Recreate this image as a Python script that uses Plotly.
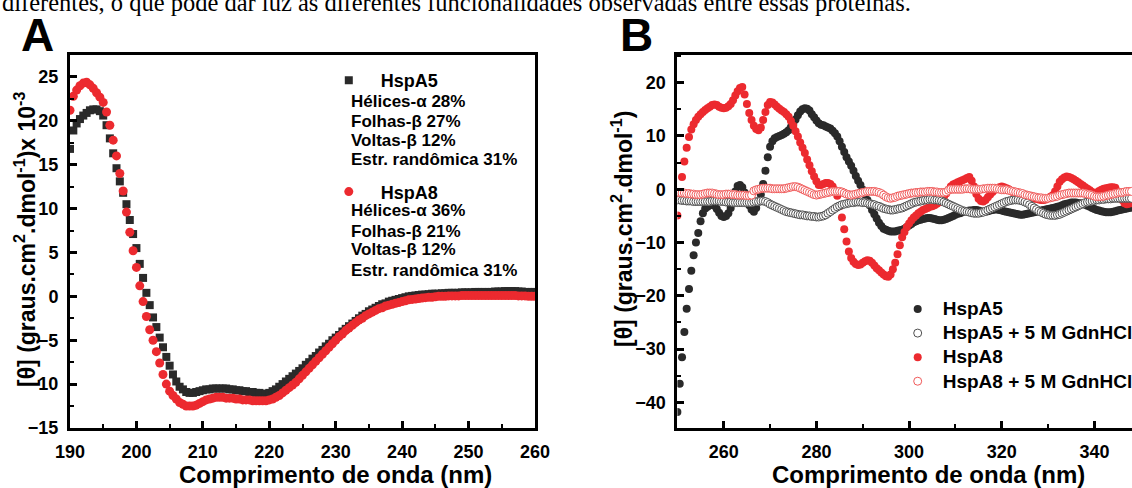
import numpy as np
import plotly.graph_objects as go

# ---------------- Panel A: far-UV CD spectra (190-260 nm, 0.5 nm step) ----------------
wl_far_start, wl_far_step = 190.0, 0.5

hspa5_far = [
    16.8, 18.9, 19.7, 20.2, 20.6, 20.9, 21.2, 21.3, 21.3, 21.1,
    20.6, 19.5, 18.0, 16.3, 14.6, 13.1, 11.8, 10.5, 8.7, 7.1,
    5.5, 3.7, 2.1, 0.4, -1.0, -2.4, -3.5, -4.7, -5.8, -6.9,
    -7.9, -8.9, -9.7, -10.3, -10.6, -10.9, -11.0, -11.0, -10.9, -10.8,
    -10.7, -10.6, -10.6, -10.5, -10.5, -10.5, -10.5, -10.5, -10.6, -10.6,
    -10.7, -10.7, -10.8, -10.8, -10.9, -10.9, -11.0, -11.0, -11.1, -11.1,
    -11.0, -10.8, -10.6, -10.3, -10.0, -9.7, -9.4, -9.1, -8.8, -8.5,
    -8.2, -7.8, -7.5, -7.1, -6.8, -6.4, -6.1, -5.7, -5.4, -5.0,
    -4.7, -4.4, -4.0, -3.7, -3.4, -3.1, -2.8, -2.5, -2.2, -2.0,
    -1.7, -1.5, -1.3, -1.1, -0.9, -0.8, -0.6, -0.5, -0.4, -0.3,
    -0.2, -0.1, 0.0, 0.05, 0.1, 0.15, 0.2, 0.2, 0.25, 0.3,
    0.3, 0.3, 0.35, 0.35, 0.4, 0.4, 0.4, 0.4, 0.45, 0.45,
    0.45, 0.45, 0.5, 0.5, 0.5, 0.5, 0.5, 0.5, 0.55, 0.55,
    0.55, 0.6, 0.6, 0.6, 0.6, 0.55, 0.55, 0.5, 0.5, 0.5,
    0.5,
]

hspa8_far = [
    21.2, 22.8, 23.5, 24.0, 24.3, 24.4, 24.1, 23.7, 23.2, 22.7,
    22.1, 21.0, 19.5, 17.8, 16.0, 14.0, 12.0, 9.6, 7.3, 5.2,
    3.3, 1.2, -0.6, -2.3, -3.8, -5.0, -6.3, -7.6, -8.9, -10.0,
    -10.8, -11.3, -11.7, -12.1, -12.3, -12.5, -12.5, -12.5, -12.4, -12.2,
    -12.0, -11.8, -11.7, -11.6, -11.5, -11.5, -11.5, -11.6, -11.6, -11.6,
    -11.7, -11.7, -11.8, -11.8, -11.8, -11.9, -11.9, -11.9, -11.9, -11.9,
    -11.8, -11.7, -11.5, -11.3, -11.0, -10.7, -10.4, -10.1, -9.8, -9.4,
    -9.0, -8.6, -8.2, -7.8, -7.4, -7.0, -6.6, -6.2, -5.8, -5.4,
    -5.0, -4.6, -4.3, -3.9, -3.6, -3.3, -3.0, -2.7, -2.5, -2.2,
    -2.0, -1.8, -1.6, -1.4, -1.3, -1.1, -1.0, -0.9, -0.8, -0.7,
    -0.6, -0.5, -0.4, -0.35, -0.3, -0.25, -0.2, -0.15, -0.1, -0.1,
    -0.05, 0.0, 0.0, 0.0, 0.05, 0.05, 0.05, 0.05, 0.1, 0.1,
    0.1, 0.1, 0.1, 0.1, 0.1, 0.1, 0.1, 0.1, 0.1, 0.1,
    0.1, 0.1, 0.1, 0.1, 0.1, 0.05, 0.05, 0.05, 0.0, 0.0,
    0.0,
]

# Secondary-structure content estimated from the far-UV spectra
ss_labels = ["Hélices-α", "Folhas-β", "Voltas-β", "Estr. randômica"]
ss_hspa5 = [28, 27, 12, 31]
ss_hspa8 = [36, 21, 12, 31]

# ---------------- Panel B: near-UV CD spectra (250-348 nm, 0.5 nm step) ----------------
wl_near_start, wl_near_step = 250.0, 0.5

hspa5_near = [
    -41.8, -36.5, -31.5, -26.8, -22.4, -18.7, -15.3, -12.4, -10.0, -8.2,
    -6.0, -4.5, -3.6, -3.3, -3.0, -2.9, -3.1, -3.7, -4.4, -5.0,
    -5.2, -5.0, -4.5, -3.5, -2.0, -0.4, 0.6, 0.8, 0.4, -0.6,
    -2.0, -3.0, -3.8, -4.2, -3.5, -2.3, -1.0, 1.0, 3.5, 6.0,
    8.0, 9.0, 9.6, 9.8, 10.0, 10.2, 10.4, 10.7, 11.1, 11.7,
    12.3, 13.1, 13.9, 14.6, 15.0, 15.2, 15.1, 14.8, 14.1, 13.5,
    12.9, 12.4, 12.1, 12.0, 11.8, 11.6, 11.4, 11.0, 10.5, 9.9,
    9.0, 8.0, 7.0, 6.0, 5.2, 4.4, 3.5, 2.5, 1.6, 0.8,
    -0.1, -1.0, -2.0, -3.0, -3.9, -4.7, -5.5, -6.3, -6.9, -7.4,
    -7.6, -7.8, -7.9, -7.9, -7.9, -7.8, -7.7, -7.6, -7.4, -7.1,
    -6.8, -6.5, -6.2, -6.0, -5.8, -5.7, -5.6, -5.5, -5.4, -5.4,
    -5.5, -5.6, -5.7, -5.8, -5.8, -5.7, -5.6, -5.4, -5.2, -5.0,
    -4.8, -4.6, -4.5, -4.3, -4.2, -4.1, -4.0, -4.0, -3.9, -3.9,
    -4.0, -4.1, -4.2, -4.2, -4.1, -4.0, -3.9, -3.8, -3.8, -3.9,
    -4.0, -4.1, -4.2, -4.3, -4.4, -4.5, -4.6, -4.7, -4.8, -4.8,
    -4.7, -4.6, -4.5, -4.4, -4.3, -4.2, -4.1, -4.0, -3.9, -3.8,
    -3.7, -3.6, -3.5, -3.4, -3.3, -3.2, -3.0, -2.8, -2.7, -2.6,
    -2.5, -2.5, -2.5, -2.6, -2.6, -2.7, -2.9, -3.1, -3.3, -3.5,
    -3.7, -3.9, -4.0, -4.1, -4.2, -4.3, -4.3, -4.3, -4.2, -4.1,
    -4.0, -3.9, -3.8, -3.7, -3.6, -3.5, -3.4,
]

hspa5_gdn_near = [
    -2.0, -2.0, -2.1, -2.1, -2.2, -2.2, -2.2, -2.3, -2.3, -2.3,
    -2.3, -2.3, -2.3, -2.3, -2.3, -2.2, -2.2, -2.2, -2.2, -2.3,
    -2.3, -2.4, -2.4, -2.4, -2.5, -2.5, -2.5, -2.5, -2.5, -2.5,
    -2.5, -2.5, -2.5, -2.4, -2.3, -2.3, -2.2, -2.2, -2.3, -2.5,
    -2.8, -3.0, -3.2, -3.4, -3.6, -3.8, -4.0, -4.2, -4.3, -4.4,
    -4.5, -4.6, -4.7, -4.8, -4.8, -4.9, -5.0, -5.0, -5.1, -5.1,
    -5.2, -5.2, -5.1, -5.0, -4.8, -4.5, -4.2, -3.9, -3.6, -3.3,
    -3.1, -2.9, -2.8, -2.7, -2.6, -2.5, -2.5, -2.4, -2.4, -2.4,
    -2.5, -2.5, -2.6, -2.7, -2.8, -2.9, -3.1, -3.2, -3.4, -3.6,
    -3.7, -3.8, -3.9, -3.9, -3.8, -3.7, -3.6, -3.5, -3.3, -3.1,
    -2.9, -2.7, -2.5, -2.4, -2.3, -2.2, -2.1, -2.0, -2.0, -1.9,
    -1.9, -2.0, -2.0, -2.1, -2.2, -2.4, -2.6, -2.8, -3.0, -3.2,
    -3.4, -3.6, -3.8, -4.0, -4.1, -4.2, -4.3, -4.4, -4.5, -4.5,
    -4.5, -4.4, -4.3, -4.1, -3.9, -3.7, -3.5, -3.3, -3.1, -2.9,
    -2.7, -2.5, -2.3, -2.2, -2.1, -2.0, -2.0, -2.0, -2.1, -2.2,
    -2.4, -2.6, -2.9, -3.2, -3.5, -3.8, -4.1, -4.3, -4.5, -4.7,
    -4.8, -4.9, -4.9, -4.9, -4.8, -4.7, -4.5, -4.3, -4.1, -3.9,
    -3.7, -3.5, -3.3, -3.1, -2.9, -2.7, -2.5, -2.4, -2.3, -2.2,
    -2.1, -2.0, -2.0, -1.9, -1.9, -1.8, -1.8, -1.8, -1.7, -1.7,
    -1.7, -1.7, -1.7, -1.7, -1.7, -1.7, -1.7,
]

hspa8_near = [
    -4.9, -1.4, 2.3, 5.2, 7.8, 9.8, 11.2, 12.2, 13.0, 13.6,
    14.1, 14.5, 14.9, 15.2, 15.5, 15.8, 15.9, 15.8, 15.5, 15.3,
    15.2, 15.3, 15.6, 16.0, 16.7, 17.6, 18.4, 19.0, 19.2, 17.8,
    16.0, 14.3, 13.0, 11.9, 11.3, 11.1, 11.6, 13.0, 14.5, 15.8,
    16.4, 16.3, 15.9, 15.5, 15.1, 14.8, 14.5, 14.1, 13.6, 12.8,
    11.9, 10.9, 9.9, 8.8, 7.8, 6.8, 5.6, 4.5, 3.4, 2.4,
    1.5, 0.8, 0.8, 1.0, 1.2, 1.2, 1.0, 0.5, -0.2, -1.2,
    -3.2, -5.3, -7.5, -9.8, -11.7, -12.9, -13.6, -14.0, -14.2, -14.1,
    -13.8, -13.5, -13.3, -13.4, -13.8, -14.3, -14.8, -15.2, -15.6, -16.0,
    -16.3, -16.4, -16.0, -15.0, -13.8, -12.2, -10.5, -9.0, -8.0, -7.1,
    -6.4, -5.8, -5.3, -4.9, -4.5, -4.2, -3.9, -3.7, -3.5, -3.3,
    -3.2, -3.0, -2.7, -2.4, -2.0, -1.5, -0.8, -0.1, 0.5, 0.9,
    1.1, 1.3, 1.5, 1.7, 1.9, 2.1, 2.3, 1.6, 0.5, -0.9,
    -1.8, -2.2, -2.3, -2.0, -1.5, -1.0, -0.5, -0.1, 0.2, 0.4,
    0.5, 0.4, 0.2, 0.0, -0.3, -0.6, -0.9, -1.1, -1.3, -1.4,
    -1.5, -1.6, -1.7, -1.7, -1.8, -1.8, -1.9, -2.0, -2.0, -1.9,
    -1.7, -1.4, -1.1, -0.4, 0.5, 1.4, 1.9, 2.2, 2.4, 2.3,
    2.1, 1.9, 1.6, 1.3, 1.0, 0.7, 0.4, 0.1, -0.2, -0.5,
    -0.7, -0.6, -0.3, -0.1, 0.1, 0.2, 0.3, 0.4, 0.4, 0.3,
    -0.4, -1.2, -2.0, -2.6, -2.8, -2.7, -2.6,
]

hspa8_gdn_near = [
    -0.6, -0.6, -0.7, -0.7, -0.8, -0.8, -0.9, -0.9, -1.0, -1.0,
    -1.0, -0.9, -0.8, -0.7, -0.7, -0.7, -0.8, -0.9, -1.0, -1.0,
    -1.0, -0.9, -0.9, -0.9, -1.0, -1.0, -1.1, -1.1, -1.1, -1.1,
    -1.2, -1.2, -1.1, -0.3, -0.1, 0.0, 0.1, 0.2, 0.2, 0.2,
    0.2, 0.1, 0.1, 0.1, 0.1, 0.1, 0.1, 0.2, 0.3, 0.4,
    0.5, 0.5, 0.4, 0.2, 0.0, -0.2, -0.4, -0.6, -0.8, -1.0,
    -1.1, -1.0, -0.9, -0.8, -0.7, -0.6, -0.5, -0.4, -0.4, -0.4,
    -0.4, -0.5, -0.7, -0.9, -1.0, -1.1, -1.0, -0.9, -0.8, -0.7,
    -0.6, -0.5, -0.4, -0.4, -0.4, -0.4, -0.5, -0.6, -0.8, -1.1,
    -1.4, -1.6, -1.7, -1.6, -1.5, -1.3, -1.2, -1.1, -1.0, -0.9,
    -0.8, -0.7, -0.7, -0.6, -0.6, -0.5, -0.5, -0.5, -0.4, -0.4,
    -0.4, -0.5, -0.5, -0.6, -0.6, -0.6, -0.5, -0.2, 0.0, 0.0,
    0.0, 0.0, 0.0, 0.0, 0.1, 0.1, 0.1, 0.0, 0.0, 0.0,
    0.0, 0.0, 0.1, 0.1, 0.2, 0.2, 0.2, 0.2, 0.1, 0.0,
    -0.1, -0.1, -0.1, -0.2, -0.3, -0.4, -0.5, -0.6, -0.7, -0.8,
    -1.0, -1.1, -1.2, -1.3, -1.4, -1.5, -1.6, -1.6, -1.7, -1.7,
    -1.7, -1.6, -1.5, -1.4, -1.3, -1.1, -1.0, -0.9, -0.8, -0.7,
    -0.7, -0.7, -0.7, -0.7, -0.7, -0.7, -0.8, -0.9, -1.0, -1.1,
    -1.3, -1.4, -1.4, -1.4, -1.3, -1.2, -1.1, -1.0, -0.9, -0.8,
    -0.7, -0.6, -0.6, -0.5, -0.4, -0.4, -0.4,
]

wl_far = wl_far_start + wl_far_step * np.arange(len(hspa5_far))
wl_near = wl_near_start + wl_near_step * np.arange(len(hspa5_near))

# ---------------- layout helpers (pixel -> paper fraction) ----------------
W, H = 1132, 488


def fx(px):
    return px / W


def fy(py):
    return 1 - py / H


BLACK = "#2a2a2a"
RED = "#ec2a2f"
OPEN_BLACK = "#505050"
OPEN_RED = "#f05a5a"
SANS = "Liberation Sans"


def big(name, size=19):
    # legend entry text drawn larger than the row pitch set by the legend font
    return f'<span style="font-size:{size}px">{name}</span>'


fig = go.Figure()

# Panel A traces
fig.add_trace(go.Scatter(
    x=wl_far, y=hspa5_far, mode="markers", name="HspA5",
    marker=dict(symbol="square", size=8, color=BLACK),
    xaxis="x", yaxis="y", legend="legend2", legendgroup="a5",
))
fig.add_trace(go.Scatter(
    x=wl_far, y=hspa8_far, mode="markers", name="HspA8",
    marker=dict(symbol="circle", size=9, color=RED),
    xaxis="x", yaxis="y", legend="legend2", legendgroup="a8",
))

# Panel B traces
fig.add_trace(go.Scatter(
    x=wl_near, y=hspa5_near, mode="markers", name=big("HspA5"),
    marker=dict(symbol="circle", size=8, color=BLACK),
    xaxis="x2", yaxis="y2", legend="legend", legendrank=1,
))
fig.add_trace(go.Scatter(
    x=wl_near, y=hspa8_near, mode="markers", name=big("HspA8"),
    marker=dict(symbol="circle", size=8, color=RED),
    xaxis="x2", yaxis="y2", legend="legend", legendrank=3,
))
fig.add_trace(go.Scatter(
    x=wl_near, y=hspa5_gdn_near, mode="markers", name=big("HspA5 + 5 M GdnHCl"),
    marker=dict(symbol="circle", size=8, color="white",
                line=dict(color=OPEN_BLACK, width=1)),
    xaxis="x2", yaxis="y2", legend="legend", legendrank=2,
))
fig.add_trace(go.Scatter(
    x=wl_near, y=hspa8_gdn_near, mode="markers", name=big("HspA8 + 5 M GdnHCl"),
    marker=dict(symbol="circle", size=8, color="white",
                line=dict(color=OPEN_RED, width=1)),
    xaxis="x2", yaxis="y2", legend="legend", legendrank=4,
))


def axis_style(tick_size, **kw):
    d = dict(
        showline=True, linecolor="black", linewidth=3,
        ticks="inside", ticklen=7, tickwidth=2.5, tickcolor="black",
        showgrid=False, zeroline=False, ticklabelstandoff=5,
        tickfont=dict(family=SANS, size=tick_size, color="black", weight="bold"),
    )
    d.update(kw)
    return d


minor_kw = dict(ticks="inside", ticklen=4, tickwidth=2, tickcolor="black", showgrid=False)

plot_top, plot_bottom = 55, 428

fig.update_layout(
    width=W, height=H,
    margin=dict(l=0, r=0, t=0, b=0, autoexpand=False),
    paper_bgcolor="white", plot_bgcolor="white",
    xaxis=axis_style(18, domain=[fx(70), fx(535)], range=[190, 260],
                     tick0=190, dtick=10, mirror=True, anchor="y",
                     minor=dict(dtick=5, **minor_kw)),
    yaxis=axis_style(18, domain=[fy(plot_bottom), fy(plot_top)], range=[-15, 27.5],
                     tick0=-15, dtick=5, mirror=True, anchor="x",
                     minor=dict(dtick=2.5, **minor_kw)),
    xaxis2=axis_style(18, domain=[fx(677.4), 1.0], range=[250, 348.1],
                      tick0=260, dtick=20, mirror=True, anchor="y2",
                      minor=dict(tick0=250, dtick=10, **minor_kw)),
    yaxis2=axis_style(18, domain=[fy(plot_bottom), fy(plot_top)], range=[-44.8, 25.2],
                      tick0=0, dtick=10, mirror=False, anchor="x2",
                      minor=dict(dtick=5, **minor_kw)),
    legend=dict(
        x=fx(892.7), xanchor="left", y=fy(292), yanchor="top",
        bgcolor="rgba(0,0,0,0)", borderwidth=0, itemwidth=40,
        font=dict(family=SANS, size=16.2, color="black", weight="bold"),
        traceorder="normal",
    ),
    legend2=dict(
        x=fx(316.8), xanchor="left", y=fy(62), yanchor="top",
        bgcolor="rgba(0,0,0,0)", borderwidth=0, itemwidth=54,
        traceorder="grouped", tracegroupgap=85,
        font=dict(family=SANS, size=18, color="black", weight="bold"),
    ),
    showlegend=True,
)

ann = []

# running text of the page above the figure
ann.append(dict(
    text="diferentes, o que pode dar luz às diferentes funcionalidades observadas entre essas proteínas.",
    x=0.0, xanchor="left", y=fy(18), yanchor="bottom",
    font=dict(family="Liberation Serif", size=24.5, color="black"),
))

# panel letters
for letter, xpx in (("A", 37), ("B", 636)):
    ann.append(dict(text=letter, x=fx(xpx), y=fy(35), xanchor="center", yanchor="middle",
                    font=dict(family=SANS, size=46, color="black", weight="bold")))

# axis titles
for xc in (335, 929):
    ann.append(dict(text="Comprimento de onda (nm)", x=fx(xc), y=fy(474),
                    xanchor="center", yanchor="middle",
                    font=dict(family=SANS, size=24, color="black", weight="bold")))
ann.append(dict(text="[θ] (graus.cm<sup>2</sup>.dmol<sup>-1</sup>)x 10<sup>-3</sup>",
                x=fx(25), y=fy(240), xanchor="center", yanchor="middle", textangle=-90,
                font=dict(family=SANS, size=23, color="black", weight="bold")))
ann.append(dict(text="[θ] (graus.cm<sup>2</sup>.dmol<sup>-1</sup>)",
                x=fx(622), y=fy(229), xanchor="center", yanchor="middle", textangle=-90,
                font=dict(family=SANS, size=23, color="black", weight="bold")))

# secondary-structure content listed under each legend entry
for values, rows in ((ss_hspa5, (101.7, 121, 140, 159.3)), (ss_hspa8, (211, 231, 250, 270))):
    for label, val, ypx in zip(ss_labels, values, rows):
        ann.append(dict(text=f"{label} {val}%", x=fx(348.5), y=fy(ypx),
                        xanchor="left", yanchor="middle",
                        font=dict(family=SANS, size=17, color="black", weight="bold")))

for a in ann:
    a.update(xref="paper", yref="paper", showarrow=False)
fig.update_layout(annotations=ann)

fig.write_html("out.html", config={"displayModeBar": False})
